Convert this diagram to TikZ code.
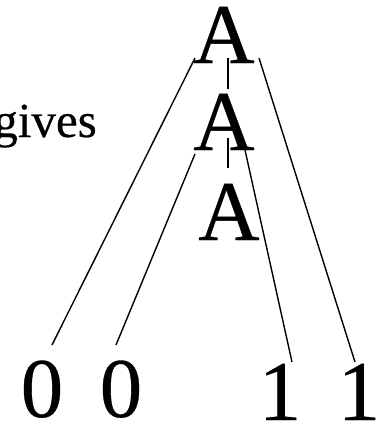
\documentclass[tikz,border=0pt]{standalone}
\usepackage{fontspec}
\setmainfont{Liberation Serif}
\newfontfamily\heavyserif[FakeBold=0.4]{Liberation Serif}
\usetikzlibrary{calc}
\begin{document}
\begin{tikzpicture}[x=1pt,y=-1pt,
  big/.style={inner sep=0pt,outer sep=0pt,anchor=base,font=\heavyserif\fontsize{85}{90}\selectfont},
  link/.style={line width=1.4pt}]
\useasboundingbox (0,0) rectangle (381,426);
\node[inner sep=0pt,anchor=base east,font=\heavyserif\fontsize{49}{55}\selectfont] (gives) at (97,137) {gives};
\node[big] (A1) at (224,63) {A};
\node[big] (A2) at (224,150) {A};
\node[big] (A3) at (229,240) {A};
\node[big] (Z1) at (42,417) {0};
\node[big] (Z2) at (121,417) {0};
\node[big] (O1) at (280,420) {1};
\node[big] (O2) at (359,420) {1};
\draw[link] ($(A1.base)+(-29,-5)$) -- ($(Z1.base)+(10,-72)$);
\draw[link] ($(A2.base)+(-29,4)$) -- ($(Z2.base)+(-5,-72)$);
\draw[link] ($(A1.base)+(35,-5)$) -- ($(O2.base)+(-4,-58)$);
\draw[link] ($(A2.base)+(21,0)$) -- ($(O1.base)+(12,-58)$);
\draw[link] ($(A1.base)+(4,-5)$) -- ($(A2.base)+(4,-61)$);
\draw[link] ($(A2.base)+(4,-12)$) -- ($(A3.base)+(-1,-72)$);
\end{tikzpicture}
\end{document}
